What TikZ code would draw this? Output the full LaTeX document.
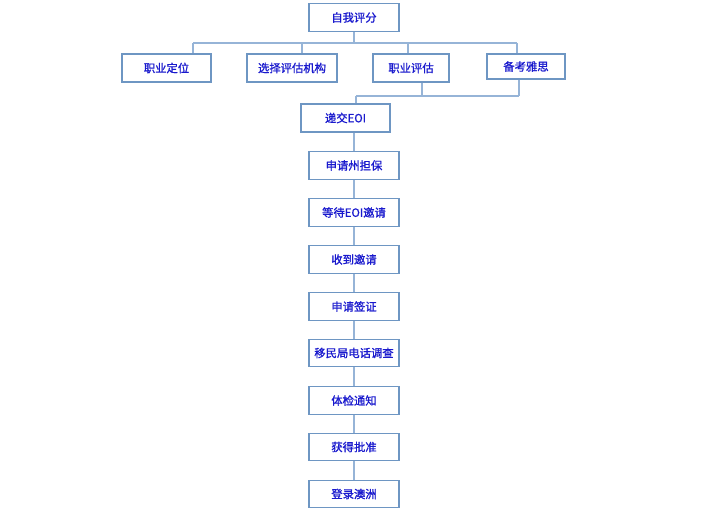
\documentclass[tikz,border=0pt]{standalone}
\usepackage{fontspec}
\newfontfamily\cjk[FakeBold=1.2,BoldFont={Noto Sans CJK SC}]{Noto Sans CJK SC}
\usetikzlibrary{positioning}
\definecolor{boxline}{RGB}{110,150,195}
\definecolor{linkline}{RGB}{150,180,215}
\definecolor{boxtext}{RGB}{25,25,205}
\begin{document}
\begin{tikzpicture}[x=0.75pt,y=-0.75pt,
  box/.style={draw=boxline,line width=0.9pt,minimum width=67.5pt,minimum height=20.5pt,inner sep=0pt,font=\cjk\bfseries\fontsize{8.5}{10}\selectfont,text=boxtext},
  link/.style={draw=linkline,line width=0.9pt}]
\useasboundingbox (0,0) rectangle (727,523);
\node[box] (t0) at (354,17.5) {自我评分};
\node[box,minimum width=66.75pt,minimum height=21pt] (r0) at (166.5,68) {职业定位};
\node[box,minimum width=67.5pt,minimum height=21pt] (r1) at (292,68) {选择评估机构};
\node[box,minimum width=57pt,minimum height=21pt] (r2) at (411,68) {职业评估};
\node[box,minimum width=58.5pt,minimum height=18.75pt] (r3) at (526,66.5) {备考雅思};
\node[box,minimum width=66.75pt,minimum height=21pt] (c0) at (345.5,118) {递交EOI};
\node[box] (c1) at (354,165.5) {申请州担保};
\node[box] (c2) at (354,212.5) {等待EOI邀请};
\node[box] (c3) at (354,259.5) {收到邀请};
\node[box] (c4) at (354,306.5) {申请签证};
\node[box] (c5) at (354,353) {移民局电话调查};
\node[box] (c6) at (354,400.5) {体检通知};
\node[box] (c7) at (354,447) {获得批准};
\node[box] (c8) at (354,494) {登录澳洲};
% branch to the second row
\coordinate (k0) at (193,43);
\coordinate (k1) at (302,43);
\coordinate (k2) at (408,43);
\coordinate (k3) at (517,43);
\draw[link] (t0.south) -- (t0.south |- k0);
\draw[link] (k0) -- (k3);
\foreach \i in {0,...,3}
  \draw[link] (k\i) -- (k\i |- r\i.north);
% join into EOI
\coordinate (m0) at (356,96);
\coordinate (m2) at (422,96);
\coordinate (m3) at (519,96);
\draw[link] (m2 |- r2.south) -- (m2);
\draw[link] (m3 |- r3.south) -- (m3);
\draw[link] (m0) -- (m3);
\draw[link] (m0) -- (m0 |- c0.north);
% main column
\draw[link] (c1 |- c0.south) -- (c1.north);
\draw[link] (c1.south) -- (c2.north);
\draw[link] (c2.south) -- (c3.north);
\draw[link] (c3.south) -- (c4.north);
\draw[link] (c4.south) -- (c5.north);
\draw[link] (c5.south) -- (c6.north);
\draw[link] (c6.south) -- (c7.north);
\draw[link] (c7.south) -- (c8.north);
\end{tikzpicture}
\end{document}
